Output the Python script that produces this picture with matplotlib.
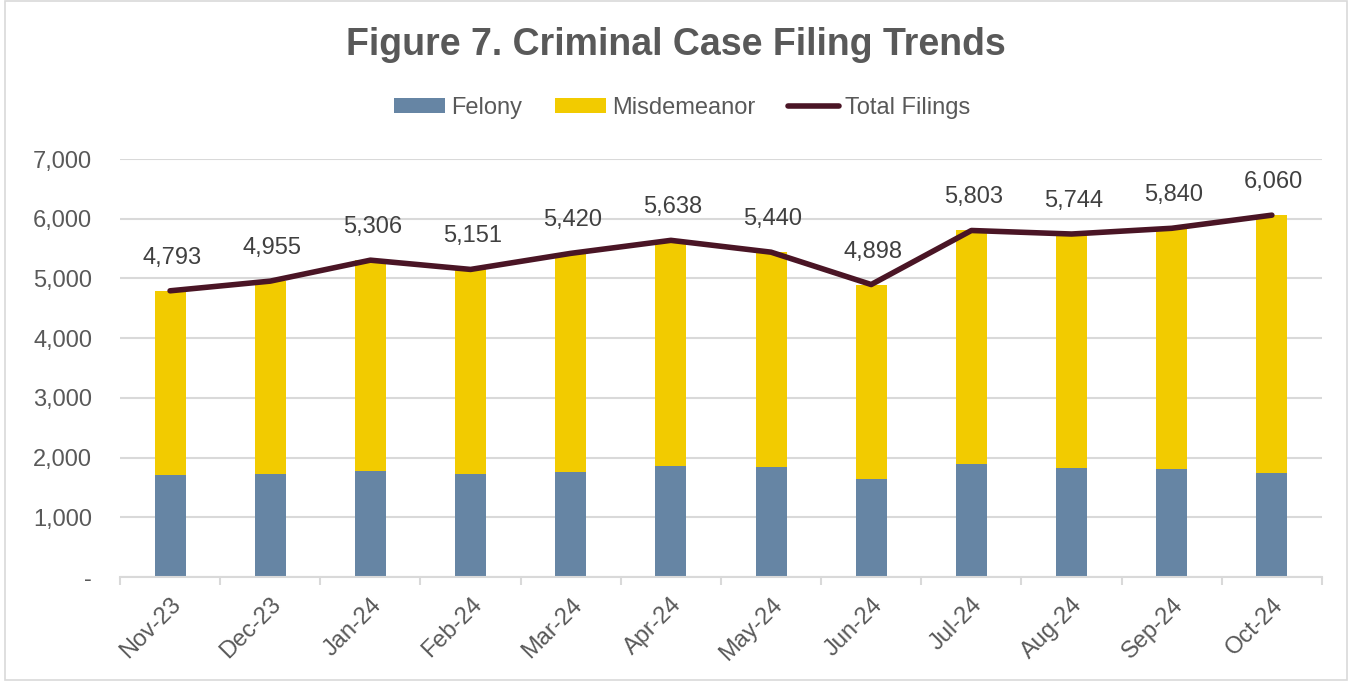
import matplotlib.pyplot as plt
import numpy as np

months = ['Nov-23', 'Dec-23', 'Jan-24', 'Feb-24', 'Mar-24', 'Apr-24',
          'May-24', 'Jun-24', 'Jul-24', 'Aug-24', 'Sep-24', 'Oct-24']
total = [4793, 4955, 5306, 5151, 5420, 5638, 5440, 4898, 5803, 5744, 5840, 6060]
felony = [1710, 1731, 1776, 1720, 1754, 1855, 1838, 1637, 1899, 1832, 1810, 1737]
misdemeanor = [t - f for t, f in zip(total, felony)]

plt.rcParams['font.family'] = ['Liberation Sans', 'DejaVu Sans']
gray = '#595959'

fig = plt.figure(figsize=(13.51, 6.81), dpi=100)
ax = fig.add_axes([0.0888, 0.1527, 0.8897, 0.6138])
x = np.arange(len(months))

b1 = ax.bar(x, felony, width=0.31, color='#6685a4', label='Felony', zorder=2)
b2 = ax.bar(x, misdemeanor, width=0.31, bottom=felony, color='#f2cb00',
            label='Misdemeanor', zorder=2)
ln, = ax.plot(x, total, color='#4a1525', lw=4, solid_capstyle='round',
              label='Total Filings', zorder=3)

for xi, t in zip(x, total):
    ax.annotate(f'{t:,}', (xi, t), xytext=(2, 33), textcoords='offset pixels',
                ha='center', va='center', fontsize=17, color='#404040')

ax.set_xlim(-0.5, len(months) - 0.5)
ax.set_ylim(0, 7000)
ax.set_yticks(range(0, 7001, 1000))
ax.set_yticklabels(['-'] + [f'{v:,}' for v in range(1000, 7001, 1000)])
ax.yaxis.grid(True, color='#d9d9d9', lw=1.5, zorder=0)
ax.tick_params(axis='y', length=0, labelsize=17, labelcolor=gray, pad=20)

ax.set_xticks(x)
ax.set_xticklabels(months, rotation=45, ha='right', rotation_mode='anchor')
ax.tick_params(axis='x', which='major', length=0, labelsize=17,
               labelcolor=gray, pad=12)
ax.set_xticks(np.arange(-0.5, len(months), 1), minor=True)
ax.tick_params(axis='x', which='minor', length=6, width=1.5, color='#d9d9d9')

for s in ['top', 'right', 'left']:
    ax.spines[s].set_visible(False)
ax.spines['bottom'].set_color('#d9d9d9')
ax.spines['bottom'].set_linewidth(1.5)

fig.text(0.5, 0.934, 'Figure 7. Criminal Case Filing Trends', ha='center',
         va='center', fontsize=27, fontweight='bold', color=gray)
fig.legend([b1, b2, ln], ['Felony', 'Misdemeanor', 'Total Filings'],
           loc='center', bbox_to_anchor=(0.505, 0.841), ncol=3, frameon=False,
           fontsize=17, labelcolor=gray, handlelength=2.15, handleheight=0.6,
           columnspacing=1.4, handletextpad=0.25)

fig.patches.append(plt.Rectangle((0.004, 0.002), 0.993, 0.996,
                                 transform=fig.transFigure, fill=False,
                                 edgecolor='#d9d9d9', lw=1.2))
fig.savefig('out.png', dpi=100)
